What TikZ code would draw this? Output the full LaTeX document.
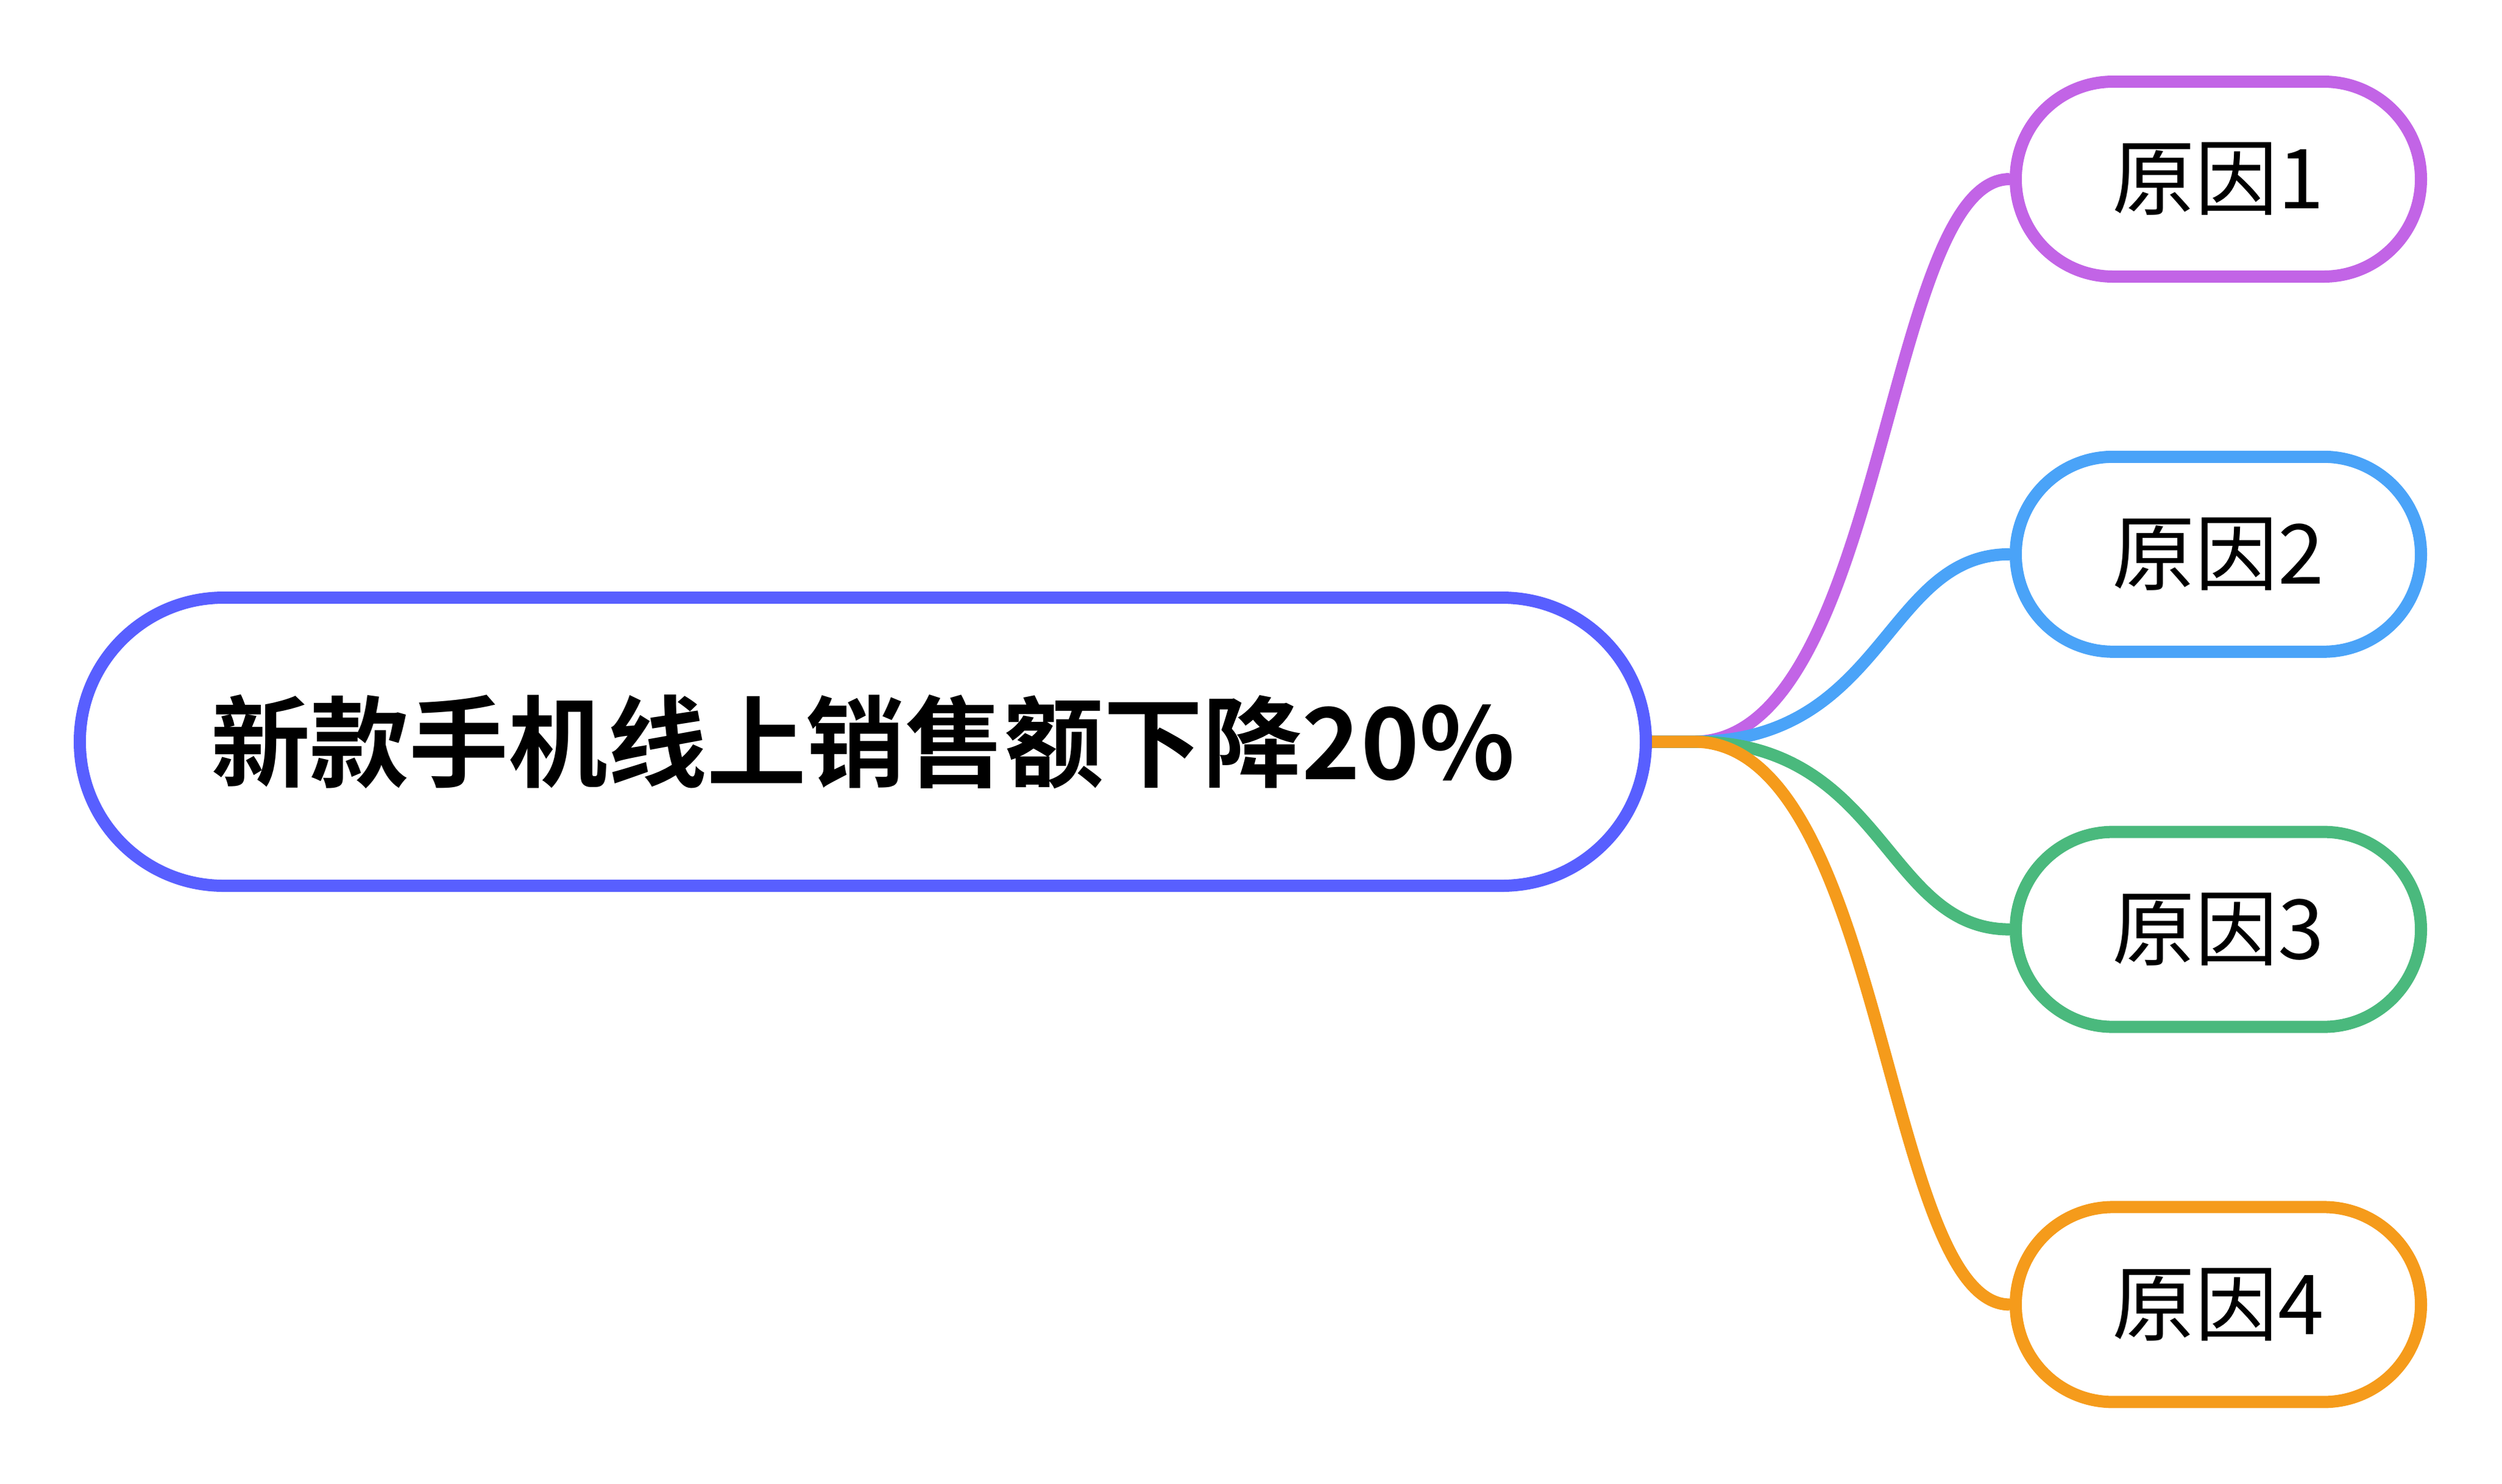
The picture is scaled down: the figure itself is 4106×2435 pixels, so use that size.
\documentclass[tikz,border=0pt]{standalone}
\usepackage{fontspec}
\setmainfont{Noto Sans CJK SC}[BoldFont={Noto Sans CJK SC Bold}]
\definecolor{cmain}{HTML}{585FFF}
\definecolor{cpurple}{HTML}{C264E6}
\definecolor{cblue}{HTML}{4AA3F8}
\definecolor{cgreen}{HTML}{4AB97D}
\definecolor{corange}{HTML}{F59B1B}
\begin{document}
\begin{tikzpicture}[x=0.25pt,y=-0.25pt,
  mainnode/.style={draw=cmain, line width=5pt, fill=white, rounded corners=59pt,
    minimum width=642.5pt, minimum height=118.25pt, inner sep=0pt,
    font=\fontsize{40.7pt}{49pt}\selectfont\bfseries},
  childnode/.style={draw=#1, line width=5pt, fill=white, rounded corners=39.9pt,
    minimum width=166.25pt, minimum height=80pt, inner sep=0pt,
    font=\fontsize{34pt}{41pt}\selectfont},
  branch/.style={draw=#1, line width=5pt}]
\useasboundingbox (0,0) rectangle (4106,2435);

\node[mainnode] (main) at (1416,1217.5) {新款手机线上销售额下降20\%};
\node[childnode=cpurple] (c1) at (3640.5,294) {原因1};
\node[childnode=cblue]   (c2) at (3640.5,909.8) {原因2};
\node[childnode=cgreen]  (c3) at (3640.5,1525.6) {原因3};
\node[childnode=corange] (c4) at (3640.5,2141.4) {原因4};

\coordinate (hub) at (2780,1217.5);
\coordinate (cx) at (3093,0);

\draw[branch=cpurple] (main.east) -- (hub) .. controls (hub -| cx) and (c1.west -| cx) .. (c1.west);
\draw[branch=cblue]   (main.east) -- (hub) .. controls (hub -| cx) and (c2.west -| cx) .. (c2.west);
\draw[branch=cgreen]  (main.east) -- (hub) .. controls (hub -| cx) and (c3.west -| cx) .. (c3.west);
\draw[branch=corange] (main.east) -- (hub) .. controls (hub -| cx) and (c4.west -| cx) .. (c4.west);
\end{tikzpicture}
\end{document}
